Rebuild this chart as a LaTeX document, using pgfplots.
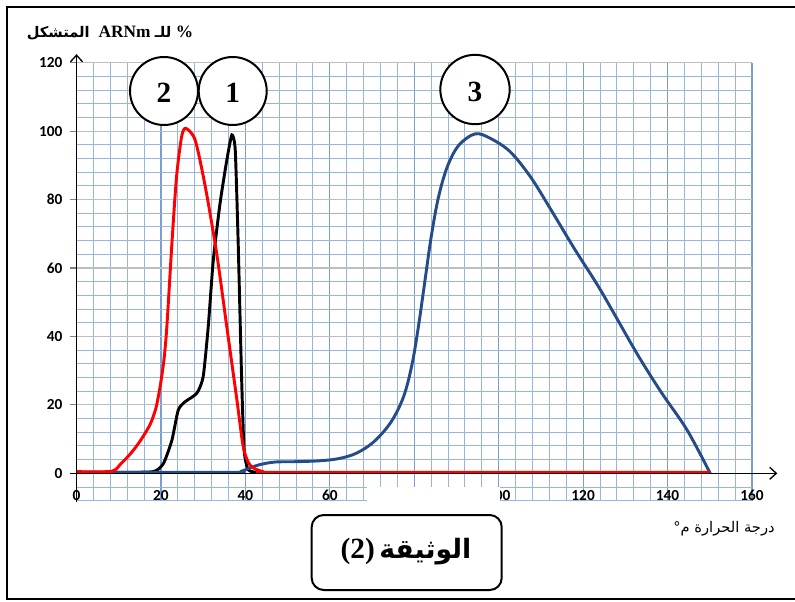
\documentclass[border=0pt]{standalone}
\usepackage{pgfplots}
\pgfplotsset{compat=1.18}
\usetikzlibrary{arrows.meta}
\usepackage{fontspec}
\TeXXeTstate=1
\newfontfamily\tickfont{Carlito}
\newfontfamily\serifb{Liberation Serif}
\newfontfamily\arabicfont[Script=Arabic]{DejaVu Sans}
\definecolor{minorblue}{RGB}{150,182,225}
\definecolor{majorblue}{RGB}{120,158,210}
\definecolor{curveblue}{RGB}{38,76,135}
\definecolor{gridgray}{RGB}{190,190,190}
\begin{document}
\begin{tikzpicture}
\begin{axis}[
  scale only axis,
  width=506.625pt, height=328.5pt,
  xmin=0, xmax=160, ymin=-8, ymax=120,
  clip=false,
  axis line style={draw=none},
  xtick={0,20,...,160},
  ytick={0,20,...,120},
  minor xtick={0,4,...,160},
  minor ytick={-8,-4,...,120},
  grid=both,
  minor grid style={minorblue, line width=0.75pt},
  major x grid style={majorblue, line width=0.85pt},
  major y grid style={gridgray, line width=0.9pt},
  xtick style={draw=none},
  ytick style={draw=gray, line width=0.8pt},
  minor tick length=0pt,
  major tick length=5pt,
  tick align=outside,
  xtick pos=bottom, ytick pos=left,
  /pgf/number format/assume math mode=true,
  ticklabel style={font=\tickfont\bfseries\fontsize{11.5}{13}\selectfont},
  xticklabel style={anchor=center, yshift=9pt},
  yticklabel style={anchor=east, xshift=-2pt},
]
\addplot[black, line width=2.2pt, smooth, tension=0.35] coordinates {
(0,0.3) (10,0.3) (18.2,0.5) (20.6,2.9) (22.6,9.7) (24.1,18.5) (25.7,20.9)
(28.5,23.4) (30.0,28.2) (31.2,42.8) (32.4,62.3) (34.0,78.9) (35.6,91.5)
(36.8,98.9) (37.6,94.5) (38.3,67.2) (39.1,28.2) (39.7,6.8) (40.7,1.0) (43,0.3)
};
\addplot[curveblue, line width=2.2pt, smooth, tension=0.55] coordinates {
(0,0.3) (37,0.3) (39,0.6) (43,2.4) (47,3.3) (52,3.4) (58,3.7) (62.5,4.4)
(66.5,6.0) (70.5,9.3) (74.5,15.0) (77.5,22.5) (79.5,32) (81,43) (82.5,56)
(84,69) (85.7,80.5) (87.8,89.5) (90.5,95.8) (94.4,99.2) (98,97.9) (102.7,94.0)
(107.5,86.7) (112.2,77.4) (118,65.5) (124.1,53.6) (132.7,35.1) (138.5,23.7)
(144.6,12.7) (150.1,0)
};
\addplot[red, line width=2.2pt, smooth, tension=0.45] coordinates {
(0,0.5) (8.3,0.6) (10.5,2.8) (12.7,5.6) (15,9.3) (17.4,14.2) (18.8,19)
(19.8,25.3) (20.7,33) (21.4,42.8) (22.6,67.2) (23.7,86.7) (24.9,98.4)
(25.9,100.8) (28.1,97.4) (30.5,83.8) (33.2,64.3) (35.6,42.8) (38.0,21.4)
(39.5,7.8) (41.1,2.4) (44.2,0.5) (50,0.3) (150,0.3)
};
\draw[black, line width=1pt, -{Straight Barb[length=5pt,width=9pt]}] (axis cs:-1.5,0) -- (axis cs:166,0);
\draw[black, line width=1pt, -{Straight Barb[length=5pt,width=9pt]}] (axis cs:0,-8.3) -- (axis cs:0,122.5);
\end{axis}
\begin{scope}[x=0.75pt, y=-0.75pt, shift={(-57.375pt,375.525pt)}]
\fill[white] (366.7,486.5) rectangle (500,503);
\draw[black, line width=1.5pt, fill=white] (164,91) circle[radius=25.5pt];
\draw[black, line width=1.5pt, fill=white] (232.7,91) circle[radius=25.5pt];
\draw[black, line width=1.5pt, fill=white] (475,89.5) circle[radius=26pt];
\node[font=\serifb\bfseries\fontsize{22}{24}\selectfont] at (164,93) {2};
\node[font=\serifb\bfseries\fontsize{22}{24}\selectfont] at (232.7,93) {1};
\node[font=\serifb\bfseries\fontsize{22}{24}\selectfont] at (475,92) {3};
\node at (110,33) {{\arabicfont\bfseries\fontsize{11}{13}\selectfont\beginR المتشكل\endR}\ \ {\serifb\bfseries\fontsize{13}{15}\selectfont ARNm}\ {\arabicfont\bfseries\fontsize{11}{13}\selectfont\beginR للـ\endR}\ {\serifb\bfseries\fontsize{13}{15}\selectfont\%}};
\node at (724,529) {\arabicfont\fontsize{11}{13}\selectfont °\beginR درجة الحرارة م\endR};
\draw[black, line width=1.5pt, rounded corners=9pt] (311.7,515) rectangle (501.7,590);
\node at (406,552) {{\serifb\bfseries\fontsize{22}{24}\selectfont (2)}\ {\arabicfont\bfseries\fontsize{20}{23}\selectfont\beginR الوثيقة\endR}};
\draw[black, line width=1.5pt] (800,7) -- (7,7) -- (7,599) -- (800,599);
\pgfresetboundingbox
\path[use as bounding box] (0,0) rectangle (795,601);
\end{scope}
\end{tikzpicture}
\end{document}
